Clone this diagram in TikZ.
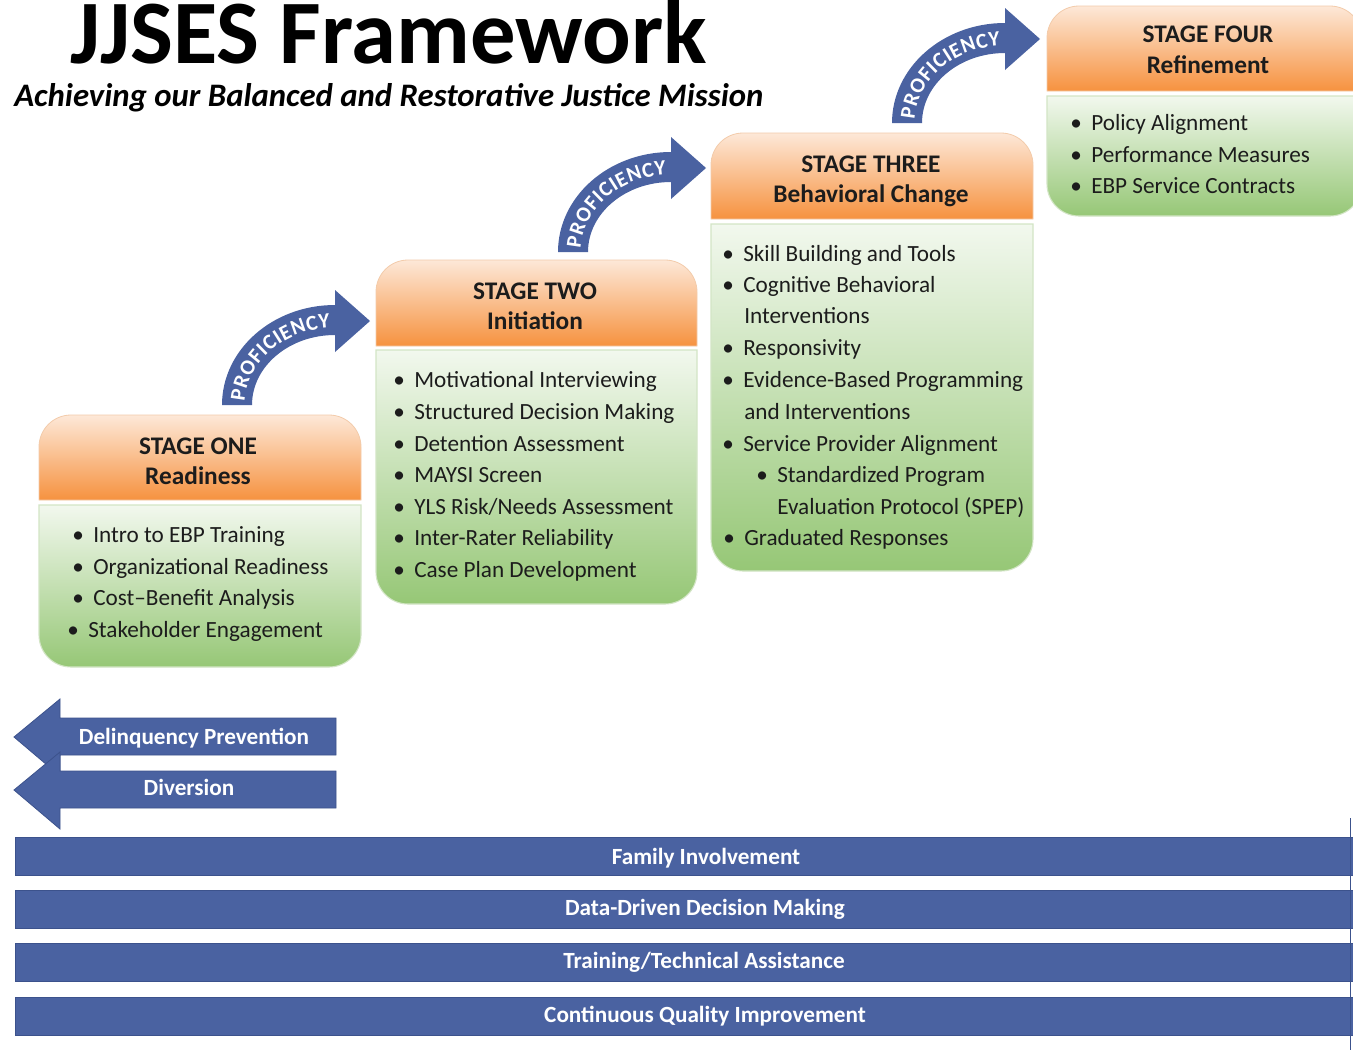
\documentclass[tikz,border=0pt]{standalone}
\usepackage{fontspec}
\setmainfont{Carlito}
\usetikzlibrary{decorations.text}
\definecolor{blu}{HTML}{4A62A1}
\definecolor{bluedge}{HTML}{3C528C}
\definecolor{hdrtop}{HTML}{FDE8D8}
\definecolor{hdrbot}{HTML}{F6923F}
\definecolor{hdredge}{HTML}{F3CBAA}
\definecolor{bodytop}{HTML}{F2F8EE}
\definecolor{bodybot}{HTML}{96C776}
\definecolor{bodyedge}{HTML}{D3E5C6}
\definecolor{txt}{HTML}{1C1C1C}
\newcommand\bu{\makebox[15.75pt][l]{•}}
\newcommand\stagebox[6]{%
 \shade[top color=hdrtop, bottom color=hdrbot, draw=hdredge, line width=0.6pt]
   (#1,#4) -- (#1,#3+32) arc[start angle=180,end angle=270,radius=32]
   -- (#2-32,#3) arc[start angle=270,end angle=360,radius=32] -- (#2,#4) -- cycle;
 \shade[top color=bodytop, bottom color=bodybot, draw=bodyedge, line width=0.8pt]
   (#1,#5) -- (#2,#5) -- (#2,#6-32) arc[start angle=0,end angle=90,radius=32]
   -- (#1+32,#6) arc[start angle=90,end angle=180,radius=32] -- cycle;}
\newcommand\profarrow[2]{%
 \begin{scope}[shift={(#1,#2)}]
 \fill[blu] (222,405) arc[start angle=180,end angle=270,x radius=113,y radius=100]
   -- (335,290) -- (370,321) -- (335,352) -- (335,335)
   arc[start angle=270,end angle=180,x radius=83,y radius=70] -- cycle;
 \path[decorate, decoration={text along path, text align=fit to path,
   text={|\fontsize{16}{16}\selectfont\bfseries\color{white}|PROFICIENCY}}]
   (244.6,401.1) arc[start angle=183,end angle=267,x radius=90.5,y radius=77.5];
 \end{scope}}
\tikzset{
 hdr/.style={font=\fontsize{19}{22}\selectfont\bfseries, text=txt, inner sep=0, anchor=base},
 itm/.style={font=\fontsize{17.4}{20}\selectfont, text=txt, inner sep=0, anchor=base west},
 bartxt/.style={font=\fontsize{17.4}{20}\selectfont\bfseries, text=white, inner sep=0, anchor=base},
 larrow/.style={fill=blu, draw=bluedge, line width=0.6pt},
 bandbar/.style={fill=blu, draw=bluedge, line width=0.5pt}
}
\begin{document}
\begin{tikzpicture}[x=0.75pt,y=-0.75pt]
\useasboundingbox (0,0) rectangle (1353,1050);
\fill[white] (0,0) rectangle (1353,1050);
% title
\node[anchor=base west, inner sep=0, font=\fontsize{68}{70}\selectfont\bfseries] (title) at (70,63) {JJSES Framework};
\node[anchor=base west, inner sep=0, font=\fontsize{24.6}{26}\selectfont\bfseries\itshape] (subtitle) at (14,106) {Achieving our Balanced and Restorative Justice Mission};
% stage boxes
\stagebox{39}{361}{415}{500}{505}{667}
\stagebox{376}{697}{260}{346}{350}{604}
\stagebox{711}{1033}{133}{219}{224}{571}
\stagebox{1047}{1362}{6}{91}{96}{216}
% proficiency arrows
\profarrow{0}{0}
\profarrow{336}{-153}
\profarrow{670}{-282}
% headers
\node[hdr] (h1a) at (198,454) {STAGE ONE};
\node[hdr] (h1b) at (198,484) {Readiness};
\node[hdr] (h2a) at (535,299) {STAGE TWO};
\node[hdr] (h2b) at (535,329) {Initiation};
\node[hdr] (h3a) at (871,172) {STAGE THREE};
\node[hdr] (h3b) at (871,202) {Behavioral Change};
\node[hdr] (h4a) at (1208,42) {STAGE FOUR};
\node[hdr] (h4b) at (1208,73) {Refinement};
% stage one items
\node[itm] (s1a) at (72,542) {\bu Intro to EBP Training};
\node[itm] (s1b) at (72,574) {\bu Organizational Readiness};
\node[itm] (s1c) at (72,605) {\bu Cost--Benefit Analysis};
\node[itm] (s1d) at (67,637) {\bu Stakeholder Engagement};
% stage two items
\node[itm] (s2a) at (393,387) {\bu Motivational Interviewing};
\node[itm] (s2b) at (393,419) {\bu Structured Decision Making};
\node[itm] (s2c) at (393,451) {\bu Detention Assessment};
\node[itm] (s2d) at (393,482) {\bu MAYSI Screen};
\node[itm] (s2e) at (393,514) {\bu YLS Risk/Needs Assessment};
\node[itm] (s2f) at (393,545) {\bu Inter-Rater Reliability};
\node[itm] (s2g) at (393,577) {\bu Case Plan Development};
% stage three items
\node[itm] (s3a) at (722,261) {\bu Skill Building and Tools};
\node[itm] (s3b) at (722,292) {\bu Cognitive Behavioral};
\node[itm] (s3c) at (744,323) {Interventions};
\node[itm] (s3d) at (722,355) {\bu Responsivity};
\node[itm] (s3e) at (722,387) {\bu Evidence-Based Programming};
\node[itm] (s3f) at (744,419) {and Interventions};
\node[itm] (s3g) at (722,451) {\bu Service Provider Alignment};
\node[itm] (s3h) at (756,482) {\bu Standardized Program};
\node[itm] (s3i) at (777,514) {Evaluation Protocol (SPEP)};
\node[itm] (s3j) at (723,545) {\bu Graduated Responses};
% stage four items
\node[itm] (s4a) at (1070,130) {\bu Policy Alignment};
\node[itm] (s4b) at (1070,162) {\bu Performance Measures};
\node[itm] (s4c) at (1070,193) {\bu EBP Service Contracts};
% left arrows
\path[larrow] (336,718) -- (60,718) -- (60,699) -- (14,737) -- (60,776) -- (60,755) -- (336,755) -- cycle;
\node[bartxt] (dp) at (194,744) {Delinquency Prevention};
\path[larrow] (336,771) -- (60,771) -- (60,752) -- (14,790) -- (60,829) -- (60,808) -- (336,808) -- cycle;
\node[bartxt] (dv) at (189,795) {Diversion};
% bands
\path[bandbar] (15,837) rectangle (1360,875);
\node[bartxt] (b1) at (706,864) {Family Involvement};
\path[bandbar] (15,890) rectangle (1360,928);
\node[bartxt] (b2) at (705,915) {Data-Driven Decision Making};
\path[bandbar] (15,943) rectangle (1360,981);
\node[bartxt] (b3) at (704,968) {Training/Technical Assistance};
\path[bandbar] (15,997) rectangle (1360,1035);
\node[bartxt] (b4) at (705,1022) {Continuous Quality Improvement};
\draw[bluedge, line width=1pt] (1350.5,818) -- (1350.5,1050);
\end{tikzpicture}
\end{document}
